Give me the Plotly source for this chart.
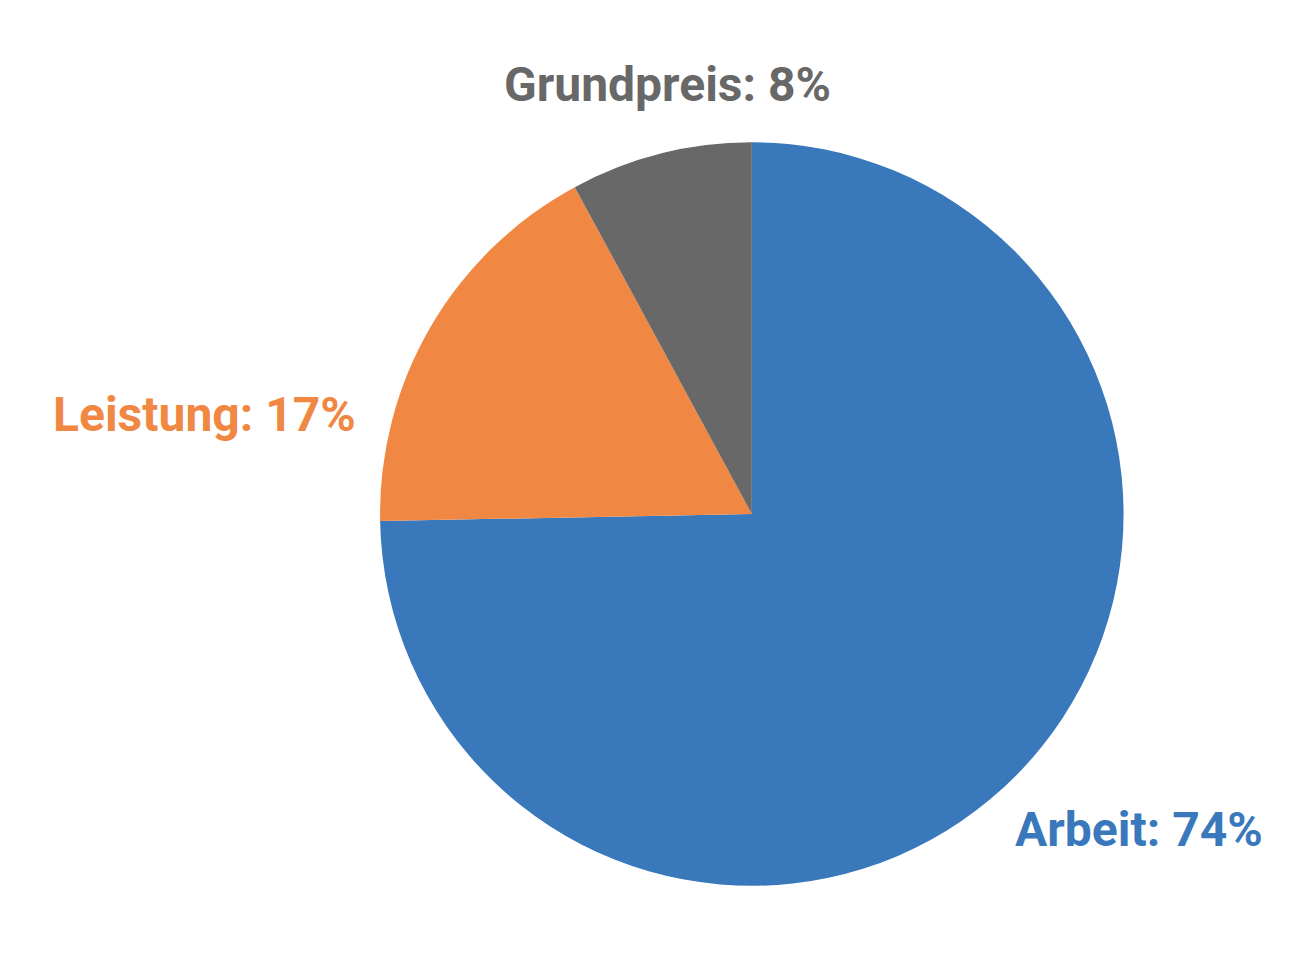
import plotly.graph_objects as go

labels = ["Arbeit", "Leistung", "Grundpreis"]
values = [74.7, 17.4, 7.9]
shown_pct = [74, 17, 8]
colors = ["#3A78BC", "#F08844", "#686868"]

# label anchor spots (paper coords) for each slice
label_x = [0.8595, 0.1495, 0.5015]
label_y = [0.1375, 0.5735, 0.9195]

fig = go.Figure()
fig.add_trace(go.Pie(
    labels=labels, values=values, sort=False, direction="clockwise", rotation=0,
    marker=dict(colors=colors, line=dict(width=0)),
    textinfo="none", hoverinfo="label+percent", showlegend=False,
    domain=dict(x=[0.2827, 0.8477], y=[0.0787, 0.8593]),
))

for i in range(len(labels)):
    fig.add_annotation(
        x=label_x[i], y=label_y[i], xref="paper", yref="paper",
        text="<b>%s: %d%%</b>" % (labels[i], shown_pct[i]),
        showarrow=False, xanchor="center", yanchor="middle",
        font=dict(family="Roboto", size=48, color=colors[i]),
    )

fig.update_layout(width=1316, height=953, margin=dict(l=0, r=0, t=0, b=0),
                  paper_bgcolor="white", plot_bgcolor="white")
fig.write_html("out.html")
